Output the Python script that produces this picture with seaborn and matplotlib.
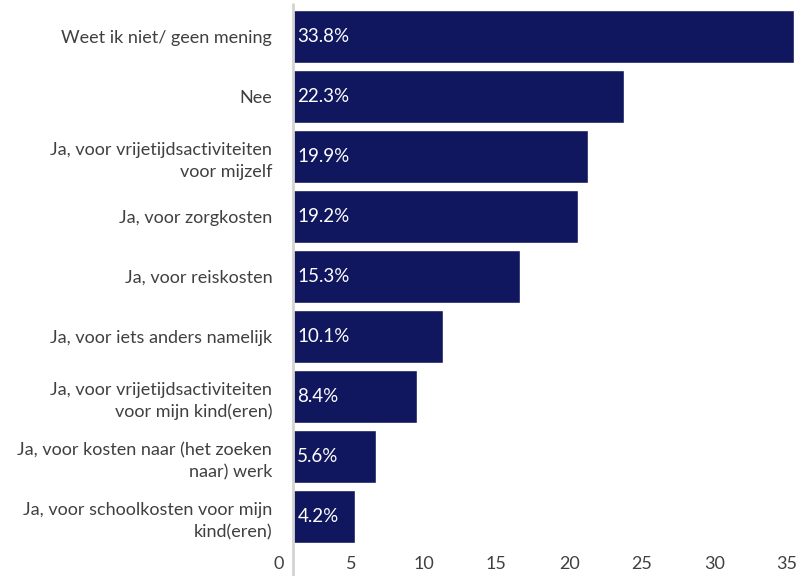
import matplotlib
matplotlib.use("Agg")
import matplotlib.pyplot as plt
import seaborn as sns
import pandas as pd

# answers and shares (percent)
categories = [
    "Weet ik niet/ geen mening",
    "Nee",
    "Ja, voor vrijetijdsactiviteiten\nvoor mijzelf",
    "Ja, voor zorgkosten",
    "Ja, voor reiskosten",
    "Ja, voor iets anders namelijk",
    "Ja, voor vrijetijdsactiviteiten\nvoor mijn kind(eren)",
    "Ja, voor kosten naar (het zoeken\nnaar) werk",
    "Ja, voor schoolkosten voor mijn\nkind(eren)",
]
values = [33.8, 22.3, 19.9, 19.2, 15.3, 10.1, 8.4, 5.6, 4.2]
tick_values = [0, 5, 10, 15, 20, 25, 30, 35]

df = pd.DataFrame({"categorie": categories, "percentage": values})

sns.set_theme(style="white")
plt.rcParams["font.family"] = ["Lato", "DejaVu Sans"]

bar_color = "#11175E"
text_color = "#404040"

fig = plt.figure(figsize=(8.08, 5.76), dpi=100)
ax = fig.add_axes([275 / 808, 31 / 576, 525 / 808, 541 / 576])

sns.barplot(data=df, x="percentage", y="categorie", color=bar_color,
            saturation=1, width=0.88, ax=ax)

ax.set_xlim(-1.21, 34.2)
ax.set_ylim(8.475, -0.54)

# value labels inside the bars
for i, v in enumerate(values):
    ax.text(0.3, i, f"{v}%", color="white", fontsize=13.5,
            va="center", ha="left")

# light grey base line at zero
ax.axvline(0, ymin=-0.06, ymax=1, color="#d4d4d4", lw=2, clip_on=False)

for s in ax.spines.values():
    s.set_visible(False)
ax.set_xlabel("")
ax.set_ylabel("")
ax.tick_params(axis="y", length=0, pad=2, labelsize=13, labelcolor=text_color)
for lbl in ax.get_yticklabels():
    lbl.set_linespacing(1.45)
ax.set_xticks([])

# bottom axis labels sit slightly offset from the bars, like in the source
sec = ax.secondary_xaxis("bottom",
                         functions=(lambda x: x * 1.02 + 1.0,
                                    lambda t: (t - 1.0) / 1.02))
sec.set_xticks(tick_values)
sec.tick_params(length=0, pad=8, labelsize=13, labelcolor=text_color)
for s in sec.spines.values():
    s.set_visible(False)

fig.savefig("out.png", dpi=100)
